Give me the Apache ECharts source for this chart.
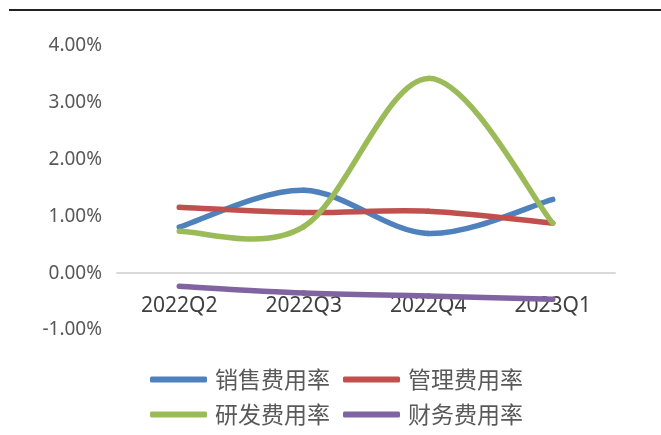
<!DOCTYPE html>
<html>
<head>
<meta charset="utf-8">
<script src="https://cdn.jsdelivr.net/npm/echarts@6/dist/echarts.min.js"></script>
<style>
  html, body { margin: 0; padding: 0; background: #fff; }
  #chart { width: 661px; height: 435px; }
</style>
</head>
<body>
<div id="chart"></div>
<script>
// Quarterly expense ratios (%)
var quarters = ['2022Q2', '2022Q3', '2022Q4', '2023Q1'];
var salesRate = [0.81, 1.46, 0.70, 1.30];
var adminRate = [1.16, 1.07, 1.09, 0.88];
var rdRate = [0.74, 0.82, 3.43, 0.88];
var financeRate = [-0.23, -0.35, -0.40, -0.46];
var yTicks = [-1, 0, 1, 2, 3, 4];

var seriesNames = ['销售费用率', '管理费用率', '研发费用率', '财务费用率'];
var seriesData = [salesRate, adminRate, rdRate, financeRate];
var colors = ['#4f81bd', '#c0504d', '#9bbb59', '#8064a2'];

var chart = echarts.init(document.getElementById('chart'));

var legendText = {
    fontSize: 23,
    color: '#595959',
    fontFamily: '"Noto Sans CJK SC", sans-serif',
    padding: [0, 0, 0, 3]
};

// spreadsheet-style smoothed line: one bezier segment per data item,
// control points from neighbouring points (catmull-rom, 1/6)
function smoothSegment(values, color) {
    return function (params, api) {
        var i = params.dataIndex;
        if (i >= values.length - 1) {
            return { type: 'group', children: [] };
        }
        var pt = function (j) {
            j = Math.max(0, Math.min(values.length - 1, j));
            return api.coord([j, values[j]]);
        };
        var p0 = pt(i - 1), p1 = pt(i), p2 = pt(i + 1), p3 = pt(i + 2);
        return {
            type: 'bezierCurve',
            shape: {
                x1: p1[0], y1: p1[1],
                x2: p2[0], y2: p2[1],
                cpx1: p1[0] + (p2[0] - p0[0]) / 6,
                cpy1: p1[1] + (p2[1] - p0[1]) / 6,
                cpx2: p2[0] - (p3[0] - p1[0]) / 6,
                cpy2: p2[1] - (p3[1] - p1[1]) / 6
            },
            style: { stroke: color, lineWidth: 5.5, fill: null, lineCap: 'round' }
        };
    };
}

chart.setOption({
    animation: false,
    color: colors,
    textStyle: { fontFamily: '"Noto Sans", sans-serif' },
    grid: { left: 117, right: 46, top: 46, bottom: 105 },
    graphic: [{
        type: 'line',
        shape: { x1: 9, y1: 10, x2: 661, y2: 10 },
        style: { stroke: '#222', lineWidth: 2 }
    }],
    legend: [{
        left: 150,
        top: 368,
        padding: 0,
        data: seriesNames.slice(0, 2),
        icon: 'roundRect',
        itemWidth: 57,
        itemHeight: 6,
        itemGap: 13,
        selectedMode: false,
        textStyle: legendText
    }, {
        left: 150,
        top: 403,
        padding: 0,
        data: seriesNames.slice(2, 4),
        icon: 'roundRect',
        itemWidth: 57,
        itemHeight: 6,
        itemGap: 13,
        selectedMode: false,
        textStyle: legendText
    }],
    xAxis: {
        type: 'category',
        data: quarters,
        boundaryGap: true,
        axisLine: { onZero: true, lineStyle: { color: '#d9d9d9', width: 2 } },
        axisTick: { show: false },
        axisLabel: { fontSize: 21, color: '#404040', margin: -34 }
    },
    yAxis: {
        type: 'value',
        min: yTicks[0],
        max: yTicks[yTicks.length - 1],
        interval: 1,
        splitLine: { show: false },
        axisLine: { show: false },
        axisTick: { show: false },
        axisLabel: {
            fontSize: 19,
            color: '#595959',
            margin: 15,
            formatter: function (v) { return v.toFixed(2) + '%'; }
        }
    },
    series: seriesNames.map(function (name, i) {
        return {
            name: name,
            type: 'custom',
            renderItem: smoothSegment(seriesData[i], colors[i]),
            data: seriesData[i].map(function (v, j) { return [j, v]; }),
            encode: { x: 0, y: 1 },
            itemStyle: { color: colors[i] },
            silent: true
        };
    })
});
</script>
</body>
</html>
